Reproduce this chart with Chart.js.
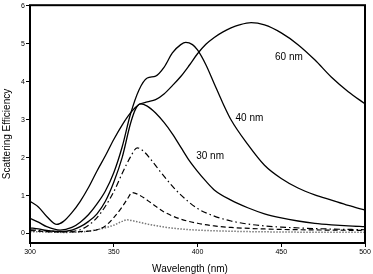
<!DOCTYPE html>
<html>
<head>
<meta charset="utf-8">
<script src="https://cdn.jsdelivr.net/npm/chart.js@4.4.1/dist/chart.umd.min.js"></script>
<style>
  html, body { margin: 0; padding: 0; background: #fff; }
  #wrap { width: 373px; height: 274px; }
</style>
</head>
<body>
<div id="wrap"><canvas id="chart" width="373" height="274"></canvas></div>
<script>
// wavelength (nm) / scattering efficiency
const wl60 = [300,305,310,316,320,325,330,335,340,345,350,355,360,365,370,375,380,385,390,395,400,405,410,415,420,425,432,440,450,460,470,480,490,500];
const eff60 = [0.85,0.7,0.45,0.24,0.32,0.55,0.85,1.22,1.65,2.05,2.48,2.86,3.18,3.4,3.47,3.53,3.68,3.9,4.14,4.43,4.74,4.99,5.17,5.31,5.42,5.5,5.56,5.5,5.29,4.98,4.58,4.12,3.74,3.42];

const wl40 = [300,305,310,318,325,330,335,340,345,350,355,360,365,370,375,380,385,390,393,397,400,405,410,415,420,430,440,450,460,470,480,490,500];
const eff40 = [0.4,0.3,0.18,0.09,0.16,0.3,0.5,0.78,1.12,1.6,2.28,3.15,3.78,4.1,4.15,4.38,4.76,4.98,5.04,4.98,4.84,4.45,3.95,3.45,3.0,2.35,1.8,1.45,1.2,1.02,0.88,0.74,0.62];

const wl30 = [300,305,310,318,325,330,335,340,345,350,355,360,363,366,370,375,380,385,390,395,400,405,410,420,430,440,450,460,470,480,490,500];
const eff30 = [0.15,0.12,0.08,0.05,0.09,0.18,0.32,0.52,0.85,1.35,2.0,2.9,3.28,3.42,3.36,3.18,2.93,2.63,2.28,1.93,1.64,1.38,1.15,0.88,0.68,0.52,0.41,0.33,0.27,0.23,0.2,0.18];

const wlDashDot = [300,310,320,330,335,340,345,350,355,360,364,368,372,378,385,390,400,410,420,430,440,450,470,500];
const effDashDot = [0.1,0.07,0.05,0.1,0.22,0.42,0.72,1.1,1.58,2.02,2.26,2.16,1.96,1.62,1.25,1.02,0.66,0.46,0.33,0.25,0.2,0.17,0.13,0.1];

const wlDash = [300,310,320,330,340,345,350,355,358,361,365,370,375,380,390,400,410,420,440,460,480,500];
const effDash = [0.08,0.05,0.04,0.05,0.1,0.2,0.42,0.7,0.9,1.08,1.02,0.88,0.72,0.57,0.38,0.27,0.2,0.16,0.12,0.1,0.09,0.08];

const wlDot = [300,320,330,340,350,355,358,362,370,380,390,400,420,450,500];
const effDot = [0.05,0.03,0.04,0.1,0.22,0.32,0.36,0.33,0.25,0.17,0.12,0.09,0.06,0.04,0.03];

const xTicks = [300, 350, 400, 450, 500];
const yTicks = [0, 1, 2, 3, 4, 5, 6];

// curve labels (text, wavelength, efficiency)
const curveLabels = ['60 nm', '40 nm', '30 nm'];
const curveLabelWl = [454.6, 431, 407.5];
const curveLabelEff = [4.66, 3.04, 2.05];

const FONT = "'Liberation Sans', Arial, sans-serif";

function pts(xs, ys) {
    return xs.map((x, i) => ({ x: x, y: ys[i] }));
}

function series(xs, ys, color, width, dash) {
    return {
        data: pts(xs, ys),
        borderColor: color,
        borderWidth: width,
        borderDash: dash,
        pointRadius: 0,
        fill: false,
        cubicInterpolationMode: 'monotone'
    };
}

const framePlugin = {
    id: 'frame',
    afterDraw(chart) {
        const ctx = chart.ctx;
        const a = chart.chartArea;
        const xs = chart.scales.x, ys = chart.scales.y;
        ctx.save();
        ctx.strokeStyle = '#000';
        ctx.lineWidth = 2;
        ctx.strokeRect(a.left, a.top, a.right - a.left, a.bottom - a.top);

        ctx.fillStyle = '#000';
        ctx.font = '10px ' + FONT;
        ctx.textAlign = 'center';
        ctx.textBaseline = 'middle';
        curveLabels.forEach((t, i) => {
            ctx.fillText(t, xs.getPixelForValue(curveLabelWl[i]), ys.getPixelForValue(curveLabelEff[i]));
        });

        // axis titles
        ctx.fillText('Wavelength (nm)', 190, 269);
        ctx.translate(7, 134);
        ctx.rotate(-Math.PI / 2);
        ctx.fillText('Scattering Efficiency', 0, 0);
        ctx.restore();
    }
};

const ctx = document.getElementById('chart').getContext('2d');
new Chart(ctx, {
    type: 'line',
    data: {
        datasets: [
            series(wl60, eff60, '#000', 1.3, []),
            series(wl40, eff40, '#000', 1.3, []),
            series(wl30, eff30, '#000', 1.3, []),
            series(wlDashDot, effDashDot, '#000', 1.2, [6, 3, 1.5, 3]),
            series(wlDash, effDash, '#000', 1.2, [5, 3]),
            series(wlDot, effDot, '#777', 1.5, [1.5, 1.5])
        ]
    },
    options: {
        responsive: false,
        animation: false,
        layout: { padding: { top: 3, right: 8, left: 0, bottom: 0 } },
        plugins: {
            legend: { display: false },
            tooltip: { enabled: false }
        },
        scales: {
            x: {
                type: 'linear',
                min: 300,
                max: 500,
                afterBuildTicks: s => { s.ticks = xTicks.map(v => ({ value: v })); },
                afterFit: s => { s.height = 31; },
                grid: { drawOnChartArea: false, drawTicks: true, tickLength: 4, color: '#000', lineWidth: 1 },
                border: { display: false },
                ticks: {
                    color: '#000',
                    font: { family: FONT, size: 7 },
                    padding: 1,
                    maxRotation: 0
                }
            },
            y: {
                type: 'linear',
                min: -0.25,
                max: 6.02,
                afterBuildTicks: s => { s.ticks = yTicks.map(v => ({ value: v })); },
                afterFit: s => { s.width = 30; },
                grid: { drawOnChartArea: false, drawTicks: true, tickLength: 4, color: '#000', lineWidth: 1 },
                border: { display: false },
                ticks: {
                    color: '#000',
                    font: { family: FONT, size: 7 },
                    padding: 1
                }
            }
        }
    },
    plugins: [framePlugin]
});
</script>
</body>
</html>
